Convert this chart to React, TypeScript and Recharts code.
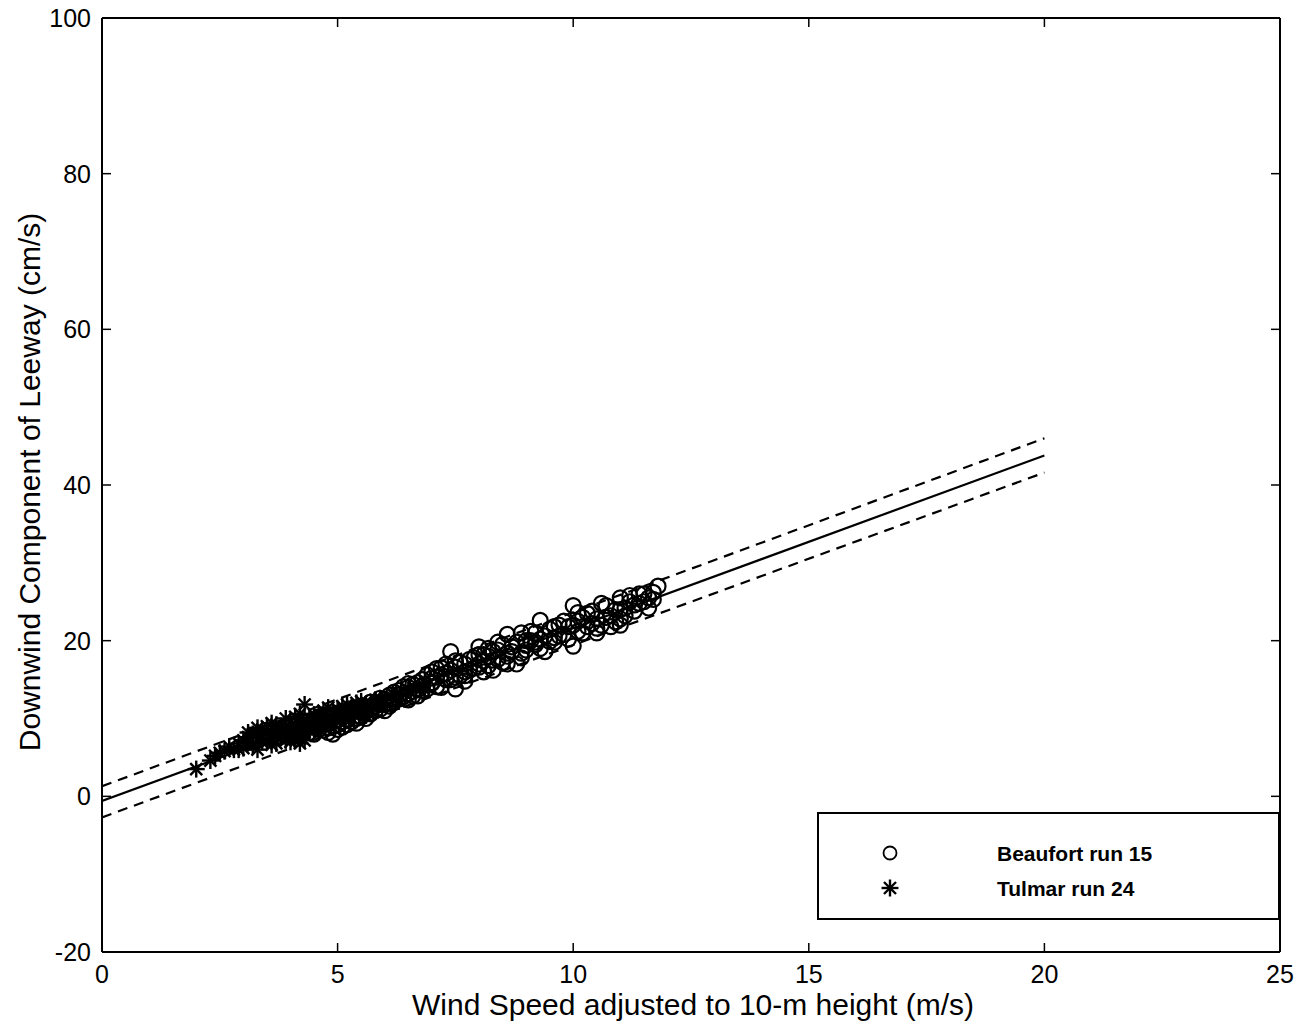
import React from "react";
import { ComposedChart, Scatter, XAxis, YAxis } from "recharts";

const xTicks = [0, 5, 10, 15, 20, 25];
const yTicks = [-20, 0, 20, 40, 60, 80, 100];

const fitX = [0, 20];
const fitY = [-0.6, 43.8];
const upperY = [1.3, 46.0];
const lowerY = [-2.7, 41.6];

const beaufortX = [4.3, 4.4, 4.5, 4.6, 4.7, 4.8, 4.9, 5.0, 5.0, 5.1, 5.2, 5.3, 5.4, 5.5, 5.6, 5.7, 5.8, 5.9, 6.0, 6.0, 6.1, 6.2, 6.3, 6.4, 6.5, 6.5, 6.6, 6.7, 6.7, 6.8, 6.9, 7.0, 7.0, 7.1, 7.2, 7.2, 7.3, 7.4, 7.4, 7.5, 7.5, 7.6, 7.7, 7.7, 7.8, 7.9, 8.0, 8.0, 8.1, 8.1, 8.2, 8.3, 8.3, 8.4, 8.5, 8.6, 8.6, 8.7, 8.8, 8.9, 9.0, 9.0, 9.1, 9.2, 9.3, 9.3, 9.4, 9.5, 9.6, 9.7, 9.8, 9.9, 10.0, 10.0, 10.1, 10.2, 10.3, 10.4, 10.5, 10.6, 10.7, 10.8, 10.9, 11.0, 11.0, 11.1, 11.2, 11.3, 11.4, 11.5, 11.6, 11.7, 11.8, 11.7];
const beaufortY = [9.5, 8.2, 9.0, 10.2, 8.5, 9.4, 8.0, 9.8, 8.6, 10.5, 9.2, 11.0, 10.0, 10.8, 11.5, 10.6, 12.0, 11.2, 12.5, 11.0, 13.0, 12.2, 13.6, 12.8, 14.0, 12.4, 13.5, 14.6, 12.9, 15.0, 13.8, 16.0, 14.5, 15.3, 16.5, 14.0, 15.8, 18.6, 15.0, 16.6, 13.8, 15.5, 17.0, 14.8, 16.2, 17.8, 19.2, 17.0, 18.2, 16.0, 19.0, 17.5, 16.2, 18.8, 17.2, 20.8, 18.0, 19.2, 17.0, 18.4, 20.0, 18.8, 21.2, 19.5, 22.6, 20.2, 18.6, 21.5, 19.8, 22.0, 20.8, 21.8, 24.5, 19.3, 22.5, 21.0, 23.5, 22.2, 21.6, 24.8, 23.0, 21.8, 24.0, 25.5, 22.8, 24.2, 25.8, 24.6, 26.0, 25.0, 24.2, 26.2, 27.0, 25.3];

const beaufortX2 = [4.2, 4.4, 4.5, 4.6, 4.8, 4.9, 5.0, 5.1, 5.2, 5.3, 5.4, 5.5, 5.6, 5.7, 5.8, 5.9, 6.0, 6.1, 6.2, 6.3, 6.4, 6.5, 6.6, 6.7, 6.8, 6.9, 7.0, 7.1, 7.2, 7.3, 7.4, 7.5, 7.6, 7.7, 7.8, 7.9, 8.0, 8.1, 8.2, 8.3, 8.4, 8.5, 8.6, 8.7, 8.8, 8.9, 9.0, 9.1, 9.2, 9.3, 9.4, 9.5, 9.6, 9.7, 9.8, 9.9, 10.0, 10.1, 10.2, 10.3, 10.4, 10.5, 10.6, 10.7, 10.8, 10.9, 11.0, 11.1, 11.2, 11.3, 11.4, 11.5, 11.6];
const beaufortY2 = [8.8, 9.6, 8.0, 9.3, 8.8, 10.3, 9.2, 8.9, 10.8, 9.6, 11.4, 10.2, 10.9, 12.1, 11.0, 12.6, 11.8, 12.0, 13.4, 12.5, 14.1, 13.2, 14.4, 13.7, 14.2, 15.6, 15.2, 14.1, 15.6, 17.0, 16.2, 15.3, 17.2, 16.0, 17.6, 16.5, 18.2, 17.4, 16.8, 18.6, 17.6, 19.5, 17.0, 18.6, 19.8, 17.8, 19.4, 20.0, 21.0, 19.0, 20.6, 19.9, 21.8, 20.6, 22.5, 20.2, 22.0, 21.2, 23.0, 21.8, 23.8, 22.8, 22.0, 24.5, 23.2, 22.4, 24.0, 23.2, 25.0, 23.8, 24.8, 26.0, 25.5];

const beaufortX3 = [4.3, 4.5, 4.6, 4.7, 4.8, 4.9, 5.0, 5.1, 5.2, 5.3, 5.4, 5.5, 5.6, 5.7, 5.8, 5.9, 6.1, 6.3, 6.5, 6.6, 6.8, 7.0, 7.1, 7.3, 7.5, 7.7, 8.0, 8.2, 8.4, 8.6, 8.9, 9.2, 9.6, 10.1, 10.5, 11.0];
const beaufortY3 = [8.4, 9.8, 8.6, 9.9, 8.2, 9.0, 10.4, 9.6, 9.9, 10.8, 9.4, 11.6, 10.0, 11.2, 11.6, 11.8, 11.6, 13.0, 14.5, 12.9, 13.6, 14.6, 16.4, 15.0, 17.4, 15.5, 16.6, 18.0, 19.8, 18.4, 21.0, 19.8, 20.4, 23.6, 21.0, 22.0];

const tulmarX = [2.0, 2.4, 2.6, 2.8, 2.9, 3.0, 3.1, 3.2, 3.3, 3.3, 3.4, 3.5, 3.5, 3.6, 3.7, 3.7, 3.8, 3.9, 4.0, 4.0, 4.1, 4.1, 4.2, 4.2, 4.3, 4.3, 4.4, 4.5, 4.6, 4.7, 4.8, 4.9, 5.0, 5.1, 5.2, 5.3, 5.4, 5.5, 5.6, 5.7, 5.8, 6.0, 6.2, 6.5, 6.8];
const tulmarY = [3.5, 5.2, 5.8, 6.0, 6.8, 7.2, 8.2, 6.5, 7.5, 6.0, 8.6, 9.0, 7.0, 8.0, 6.8, 9.2, 7.8, 8.4, 7.0, 9.6, 8.2, 10.2, 7.5, 6.8, 11.8, 9.0, 8.4, 10.5, 9.0, 11.0, 10.0, 9.5, 11.2, 10.5, 11.8, 10.0, 12.0, 11.0, 10.4, 11.6, 12.4, 12.0, 13.0, 13.6, 14.0];

const tulmarX2 = [2.3, 2.7, 3.0, 3.1, 3.2, 3.4, 3.5, 3.6, 3.7, 3.8, 3.9, 4.0, 4.1, 4.2, 4.3, 4.4, 4.5, 4.6, 4.7, 4.8, 5.0, 5.2, 5.4, 5.6, 5.9, 6.3];
const tulmarY2 = [4.6, 6.4, 6.2, 7.6, 8.0, 7.0, 8.2, 7.4, 8.6, 9.0, 7.2, 8.8, 7.6, 9.4, 8.2, 10.0, 9.2, 10.6, 9.4, 11.4, 10.2, 10.6, 11.0, 11.8, 12.6, 12.2];

const tulmarX3 = [2.5, 2.9, 3.1, 3.3, 3.4, 3.6, 3.6, 3.8, 3.9, 4.0, 4.1, 4.2, 4.3, 4.4, 4.5, 4.6, 4.7, 4.9, 5.1, 5.3, 5.5];
const tulmarY3 = [5.6, 6.0, 7.0, 8.8, 7.8, 9.4, 6.6, 8.4, 10.0, 8.0, 9.0, 10.6, 7.2, 9.0, 8.6, 9.8, 10.4, 11.0, 11.6, 11.2, 12.2];

const pair = (xs: number[], ys: number[]) => xs.map((x, i) => ({ x, y: ys[i] }));
const beaufort = [...pair(beaufortX, beaufortY), ...pair(beaufortX2, beaufortY2), ...pair(beaufortX3, beaufortY3)];
const tulmar = [...pair(tulmarX, tulmarY), ...pair(tulmarX2, tulmarY2), ...pair(tulmarX3, tulmarY3)];
const fitLine = pair(fitX, fitY);
const upperLine = pair(fitX, upperY);
const lowerLine = pair(fitX, lowerY);

const FONT = "'Liberation Sans', Arial, sans-serif";

const CircleShape = (p: any) => (
  <circle cx={p.cx} cy={p.cy} r={7.5} fill="none" stroke="#000" strokeWidth={2.2} />
);

const StarShape = (p: any) => {
  const r = 8.5;
  const { cx, cy } = p;
  const d = r * 0.707;
  return (
    <g stroke="#000" strokeWidth={2.4}>
      <line x1={cx - r} y1={cy} x2={cx + r} y2={cy} />
      <line x1={cx} y1={cy - r} x2={cx} y2={cy + r} />
      <line x1={cx - d} y1={cy - d} x2={cx + d} y2={cy + d} />
      <line x1={cx - d} y1={cy + d} x2={cx + d} y2={cy - d} />
    </g>
  );
};

const NoShape = () => null;

const BottomTick = (p: any) => (
  <g>
    <line x1={p.x} x2={p.x} y1={p.y} y2={p.y - 9} stroke="#000" strokeWidth={1.5} />
    <text x={p.x} y={p.y + 22} textAnchor="middle" dominantBaseline="central" fontSize={25} fontFamily={FONT} fill="#000">
      {p.payload.value}
    </text>
  </g>
);

const TopTick = (p: any) => (
  <line x1={p.x} x2={p.x} y1={p.y} y2={p.y + 9} stroke="#000" strokeWidth={1.5} />
);

const LeftTick = (p: any) => (
  <g>
    <line x1={p.x} x2={p.x + 9} y1={p.y} y2={p.y} stroke="#000" strokeWidth={1.5} />
    <text x={p.x - 11} y={p.y} textAnchor="end" dominantBaseline="central" fontSize={25} fontFamily={FONT} fill="#000">
      {p.payload.value}
    </text>
  </g>
);

const RightTick = (p: any) => (
  <line x1={p.x} x2={p.x - 9} y1={p.y} y2={p.y} stroke="#000" strokeWidth={1.5} />
);

export default function App() {
  return (
    <div style={{ position: "relative", top: -10, width: 1290, height: 1020, background: "#fff" }}>
      <ComposedChart width={1290} height={1020} margin={{ top: 19, right: 17, left: 0, bottom: 0 }}>
        <XAxis
          xAxisId="b"
          type="number"
          dataKey="x"
          domain={[0, 25]}
          ticks={xTicks}
          allowDataOverflow
          height={66}
          tickSize={0}
          tickMargin={0}
          tickLine={false}
          axisLine={{ stroke: "#000", strokeWidth: 2 }}
          tick={<BottomTick />}
        />
        <XAxis
          xAxisId="t"
          orientation="top"
          type="number"
          dataKey="x"
          domain={[0, 25]}
          ticks={xTicks}
          allowDataOverflow
          height={1}
          tickSize={0}
          tickMargin={0}
          tickLine={false}
          axisLine={{ stroke: "#000", strokeWidth: 2 }}
          tick={<TopTick />}
        />
        <YAxis
          yAxisId="l"
          type="number"
          dataKey="y"
          domain={[-20, 100]}
          ticks={yTicks}
          allowDataOverflow
          width={94}
          tickSize={0}
          tickMargin={0}
          tickLine={false}
          axisLine={{ stroke: "#000", strokeWidth: 2 }}
          tick={<LeftTick />}
        />
        <YAxis
          yAxisId="r"
          orientation="right"
          type="number"
          dataKey="y"
          domain={[-20, 100]}
          ticks={yTicks}
          allowDataOverflow
          width={1}
          tickSize={0}
          tickMargin={0}
          tickLine={false}
          axisLine={{ stroke: "#000", strokeWidth: 2 }}
          tick={<RightTick />}
        />
        <Scatter xAxisId="t" yAxisId="r" data={fitLine} shape={NoShape} isAnimationActive={false} />
        <Scatter xAxisId="b" yAxisId="l" data={upperLine} line={{ stroke: "#000", strokeWidth: 2.2, strokeDasharray: "10 7" }} shape={NoShape} isAnimationActive={false} />
        <Scatter xAxisId="b" yAxisId="l" data={lowerLine} line={{ stroke: "#000", strokeWidth: 2.2, strokeDasharray: "10 7" }} shape={NoShape} isAnimationActive={false} />
        <Scatter xAxisId="b" yAxisId="l" data={fitLine} line={{ stroke: "#000", strokeWidth: 2.2 }} shape={NoShape} isAnimationActive={false} />
        <Scatter xAxisId="b" yAxisId="l" name="Beaufort run 15" data={beaufort} shape={CircleShape} isAnimationActive={false} />
        <Scatter xAxisId="b" yAxisId="l" name="Tulmar run 24" data={tulmar} shape={StarShape} isAnimationActive={false} />
      </ComposedChart>
      <div
        style={{
          position: "absolute",
          left: 0,
          top: 992,
          width: 1370,
          textAlign: "center",
          fontFamily: FONT,
          fontSize: 30,
          lineHeight: "30px",
          color: "#000",
        }}
      >
        Wind Speed adjusted to 10-m height (m/s)
      </div>
      <div style={{ position: "absolute", left: 22, top: 484, width: 0, height: 0 }}>
        <div
          style={{
            position: "absolute",
            transform: "translate(-50%, -50%) rotate(-90deg)",
            whiteSpace: "nowrap",
            fontFamily: FONT,
            fontSize: 30,
            lineHeight: "34px",
            color: "#000",
          }}
        >
          Downwind Component of Leeway (cm/s)
        </div>
      </div>
      <div
        style={{
          position: "absolute",
          left: 809,
          top: 814,
          width: 463,
          height: 108,
          border: "2px solid #000",
          boxSizing: "border-box",
          background: "#fff",
        }}
      >
        <svg width={463} height={108} style={{ position: "absolute", left: -2, top: -2 }}>
          <circle cx={73} cy={41} r={6.5} fill="none" stroke="#000" strokeWidth={1.8} />
          <StarShape cx={73} cy={76} />
          <text x={180} y={41} dominantBaseline="central" fontSize={21} fontWeight="bold" fontFamily={FONT} fill="#000">
            Beaufort run 15
          </text>
          <text x={180} y={76} dominantBaseline="central" fontSize={21} fontWeight="bold" fontFamily={FONT} fill="#000">
            Tulmar run 24
          </text>
        </svg>
      </div>
    </div>
  );
}
